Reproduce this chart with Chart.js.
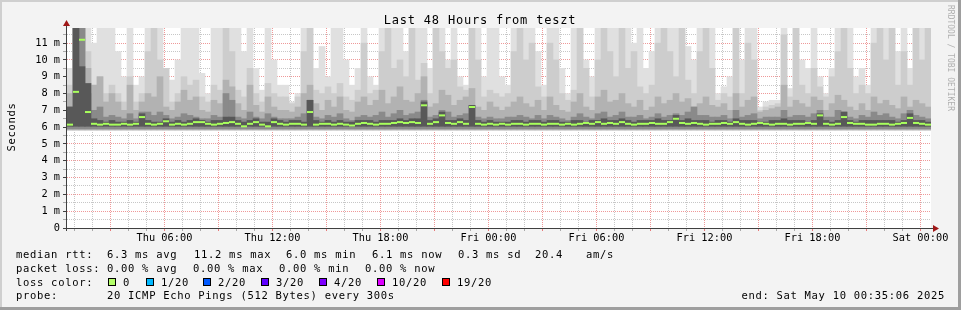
<!DOCTYPE html>
<html><head><meta charset="utf-8">
<script src="https://cdn.jsdelivr.net/npm/chart.js@4"></script>
<style>html,body{margin:0;padding:0;background:#f3f3f3;}#wrap{width:961px;height:310px;position:relative}</style>
</head><body><div id="wrap"><canvas id="c" width="961" height="310"></canvas></div>
<script>
// ---- data (values in milliseconds, 144 slots of 20 minutes, Thu 00:35 -> Sat 00:35) ----
const slotMinutes = 20;
const smokeHigh = [
 9.5,11.9,11.9,11.9,11.0,11.9,11.9,11.9,10.5,9.0,11.9,8.5,9.0,11.9,11.9,11.9,9.5,8.8,10.0,11.9,11.9,11.9,9.2,8.0,11.9,11.9,11.9,11.9,11.9,10.5,11.9,9.5,8.2,11.9,10.0,8.5,
 8.5,7.5,8.0,11.9,11.9,9.5,10.8,9.0,11.9,11.9,10.0,8.5,9.5,11.9,9.0,8.5,11.9,11.9,11.9,11.9,10.5,11.9,11.9,11.9,9.5,11.9,11.9,10.0,11.9,9.0,8.5,11.9,11.9,9.0,11.9,11.9,
 9.0,8.5,11.9,11.9,11.9,11.9,10.5,8.5,11.9,11.9,9.5,8.0,11.9,11.9,10.0,9.0,11.9,11.9,11.9,11.9,11.9,11.9,11.0,11.9,9.5,10.5,11.9,11.9,11.9,11.9,11.9,10.8,10.0,11.9,11.9,11.9,
 8.0,8.4,9.0,11.9,10.0,11.9,11.9,7.2,7.5,7.6,7.6,11.9,8.3,11.9,10.0,9.5,11.9,9.0,8.0,9.5,11.9,11.9,11.9,9.0,9.5,8.5,11.9,11.9,11.9,11.9,10.5,11.9,9.5,11.9,11.9,11.9];
const smokeUpper = [
 8.5,11.9,11.9,10.5,8.5,9.0,8.0,8.5,8.0,7.5,9.0,7.5,8.0,10.5,11.9,10.0,9.5,7.5,8.0,9.0,8.5,8.8,7.8,7.5,8.5,8.2,11.9,10.5,8.2,7.8,9.5,8.0,7.5,8.6,8.0,7.8,
 7.8,7.4,7.8,10.5,11.9,8.2,8.0,8.4,8.0,8.6,7.8,7.6,8.2,11.0,8.0,8.2,10.5,11.9,9.5,10.0,9.0,11.9,8.8,9.8,8.0,11.9,10.5,9.5,10.0,8.4,8.2,11.9,10.0,7.8,8.2,8.0,
 7.8,8.0,10.5,11.9,10.0,11.0,8.4,7.8,11.0,10.0,8.0,7.6,8.2,11.9,9.5,7.8,10.0,11.9,10.5,9.0,11.9,9.5,10.5,8.4,8.0,8.5,11.0,11.9,10.5,9.0,11.9,8.8,8.0,10.5,11.9,9.5,
 7.6,8.0,7.8,11.9,8.0,11.0,10.0,7.0,7.2,7.3,7.4,11.5,7.8,11.9,8.5,8.0,9.5,8.4,7.8,9.0,10.5,11.9,9.5,8.0,8.5,8.0,11.0,11.9,10.0,11.9,8.5,10.5,8.5,11.9,10.0,11.9];
const smokeMid = [
 8.0,11.9,11.9,9.5,8.5,9.0,7.5,8.0,7.5,7.0,8.5,7.0,7.5,8.0,7.8,9.0,7.2,7.0,7.5,8.2,7.6,7.8,7.0,6.9,7.6,7.4,8.8,8.4,7.4,7.0,8.5,7.3,6.9,7.8,7.2,7.0,
 7.0,6.9,7.2,8.0,8.5,7.4,7.0,7.6,7.2,7.8,7.0,6.9,7.5,7.8,7.3,7.6,8.2,7.4,7.8,8.4,7.6,7.5,8.0,9.0,7.2,7.4,8.2,7.9,7.3,7.6,7.8,8.3,7.2,7.0,7.5,7.2,
 7.0,7.2,7.5,7.8,7.4,7.2,7.6,7.0,7.8,7.3,7.0,6.9,7.5,8.0,7.2,7.0,7.8,8.2,7.5,7.6,8.0,7.4,7.2,7.6,7.0,7.2,7.8,7.4,7.6,8.0,7.5,7.7,7.2,7.4,7.8,7.3,
 7.2,7.4,7.0,8.0,7.2,7.6,7.8,6.9,7.0,7.1,7.2,8.5,7.2,7.6,7.4,7.2,7.8,7.6,7.0,7.4,7.9,7.6,7.2,7.0,7.4,7.0,7.8,7.4,7.6,7.3,7.1,7.8,7.2,7.6,7.4,7.2];
const smokeDark = [
 7.2,11.9,11.9,8.0,7.0,7.2,6.6,6.7,6.6,6.5,6.8,6.5,6.9,6.9,6.7,6.9,6.7,6.5,6.6,6.8,6.7,6.6,6.5,6.5,6.7,6.6,8.0,7.6,6.6,6.5,6.9,6.6,6.5,6.8,6.6,6.5,
 6.5,6.5,6.6,6.8,7.6,6.6,6.5,6.7,6.6,6.8,6.5,6.4,6.6,6.7,6.6,6.7,6.9,6.6,6.8,7.0,6.7,6.8,6.9,7.6,6.6,6.7,7.0,6.9,6.6,6.7,6.8,7.3,6.6,6.5,6.6,6.5,
 6.5,6.6,6.6,6.7,6.6,6.5,6.7,6.5,6.7,6.6,6.5,6.4,6.6,6.8,6.6,6.5,6.8,6.9,6.6,6.7,6.9,6.6,6.6,6.7,6.5,6.6,6.8,6.6,6.7,6.8,6.7,6.9,7.2,6.7,6.7,6.6,
 6.6,6.7,6.5,7.0,6.6,6.7,6.8,6.5,6.6,6.6,6.6,7.0,6.6,6.7,6.7,6.6,6.8,7.0,6.6,6.6,7.0,6.9,6.6,6.5,6.7,6.6,6.9,6.7,6.8,6.6,6.5,6.8,7.0,6.7,6.6,6.5];
const smokeCore = [
 7.2,11.9,9.6,8.6,6.5,6.4,6.3,6.4,6.3,6.3,6.4,6.3,6.8,6.4,6.3,6.3,6.5,6.3,6.4,6.3,6.4,6.5,6.4,6.3,6.4,6.4,6.6,6.6,6.4,6.3,6.4,6.5,6.3,6.3,6.5,6.4,
 6.3,6.4,6.4,6.3,7.6,6.4,6.3,6.4,6.3,6.4,6.3,6.3,6.4,6.4,6.4,6.3,6.4,6.4,6.4,6.5,6.4,6.5,6.5,7.5,6.4,6.5,6.9,6.4,6.4,6.5,6.4,7.3,6.4,6.3,6.4,6.3,
 6.3,6.3,6.4,6.4,6.3,6.4,6.4,6.3,6.4,6.4,6.3,6.3,6.4,6.4,6.3,6.4,6.4,6.5,6.4,6.4,6.5,6.4,6.3,6.4,6.4,6.4,6.5,6.4,6.4,6.7,6.4,6.5,6.4,6.4,6.4,6.3,
 6.4,6.4,6.3,6.5,6.4,6.4,6.4,6.3,6.3,6.4,6.4,6.5,6.4,6.4,6.4,6.3,6.4,6.8,6.4,6.3,6.4,6.9,6.4,6.3,6.4,6.4,6.4,6.4,6.4,6.4,6.3,6.4,6.8,6.4,6.4,6.3];
const medianRtt = [
 6.15,8.1,11.2,6.9,6.2,6.15,6.2,6.15,6.15,6.2,6.15,6.2,6.6,6.2,6.15,6.2,6.35,6.15,6.2,6.15,6.2,6.3,6.3,6.2,6.15,6.2,6.25,6.3,6.2,6.05,6.2,6.3,6.15,6.05,6.3,6.2,
 6.15,6.2,6.2,6.15,6.9,6.15,6.2,6.2,6.15,6.2,6.15,6.1,6.2,6.25,6.2,6.15,6.2,6.2,6.25,6.3,6.25,6.3,6.25,7.3,6.2,6.3,6.7,6.25,6.2,6.3,6.2,7.2,6.2,6.15,6.2,6.15,
 6.2,6.15,6.2,6.2,6.15,6.2,6.2,6.15,6.2,6.2,6.15,6.2,6.15,6.2,6.25,6.2,6.3,6.2,6.25,6.2,6.3,6.2,6.15,6.2,6.2,6.25,6.2,6.2,6.3,6.5,6.25,6.2,6.25,6.2,6.15,6.2,
 6.2,6.25,6.2,6.3,6.2,6.15,6.2,6.25,6.2,6.15,6.2,6.2,6.15,6.2,6.2,6.25,6.2,6.7,6.2,6.15,6.2,6.6,6.25,6.2,6.2,6.15,6.15,6.2,6.2,6.15,6.2,6.25,6.55,6.25,6.2,6.15];
const smokeFloor = [5.8, 5.82, 5.85, 5.9, 6.05]; // high, upper, mid, dark, core
const yTickLabels = ['0','1 m','2 m','3 m','4 m','5 m','6 m','7 m','8 m','9 m','10 m','11 m'];
const xTickLabels = ['Thu 06:00','Thu 12:00','Thu 18:00','Fri 00:00','Fri 06:00','Fri 12:00','Fri 18:00','Sat 00:00'];
const startOffsetMin = 35.1; // graph starts at 00:35:06
const lossColors = ['#b4ff6a','#00b8ff','#0059ff','#5e00ff','#7e00ff','#dd00ff','#ff0000'];
const lossLabels = ['0','1/20','2/20','3/20','4/20','10/20','19/20'];
const rowMedian = ['median rtt:','6.3 ms avg','11.2 ms max','6.0 ms min','6.1 ms now','0.3 ms sd','20.4','am/s'];
const rowLoss = ['packet loss:','0.00 % avg','0.00 % max','0.00 % min','0.00 % now'];

const MONO = "'DejaVu Sans Mono', monospace";
const slotX = i => i * slotMinutes + slotMinutes / 2;
const band = (arr, floor) => arr.map((v, i) => ({x: slotX(i), y: [floor, v]}));
const barDs = (label, arr, floor, color, order) => ({
  type: 'bar', label, data: band(arr, floor), backgroundColor: color, borderWidth: 0,
  grouped: false, barPercentage: 1, categoryPercentage: 1, order
});
const hourOf = v => Math.round((v + startOffsetMin) / 60);

const frame = {
  id: 'frame',
  beforeDraw(chart) {
    const {ctx, chartArea: a} = chart;
    ctx.save();
    ctx.fillStyle = '#f3f3f3'; ctx.fillRect(0, 0, 961, 310);
    ctx.fillStyle = '#cfcfcf'; ctx.fillRect(0, 0, 961, 2); ctx.fillRect(0, 0, 2, 310);
    ctx.fillStyle = '#9e9e9e'; ctx.fillRect(0, 307, 961, 3); ctx.fillRect(958, 0, 3, 310);
    ctx.fillStyle = '#ffffff'; ctx.fillRect(a.left, a.top, a.right - a.left, a.bottom - a.top);
    ctx.restore();
  },
  afterDraw(chart) {
    const {ctx, chartArea: a} = chart;
    ctx.save();
    // axes
    ctx.strokeStyle = '#404040'; ctx.lineWidth = 1;
    ctx.beginPath(); ctx.moveTo(a.left - 0.5, a.bottom + 3); ctx.lineTo(a.left - 0.5, 22); ctx.stroke();
    ctx.beginPath(); ctx.moveTo(a.left - 4, a.bottom + 0.5); ctx.lineTo(a.right + 4, a.bottom + 0.5); ctx.stroke();
    ctx.fillStyle = '#a01818';
    ctx.beginPath(); ctx.moveTo(a.left - 4, 26); ctx.lineTo(a.left + 3, 26); ctx.lineTo(a.left - 0.5, 20); ctx.closePath(); ctx.fill();
    ctx.beginPath(); ctx.moveTo(a.right + 2, a.bottom - 3); ctx.lineTo(a.right + 2, a.bottom + 4); ctx.lineTo(a.right + 8, a.bottom + 0.5); ctx.closePath(); ctx.fill();
    // title
    ctx.fillStyle = '#000';
    ctx.letterSpacing = '0.8px';
    ctx.font = '12px ' + MONO; ctx.textAlign = 'center'; ctx.textBaseline = 'alphabetic';
    ctx.fillText('Last 48 Hours from teszt', 480, 24);
    // y title
    ctx.letterSpacing = '0.7px';
    ctx.font = '10.5px ' + MONO;
    ctx.save(); ctx.translate(15, 127); ctx.rotate(-Math.PI / 2); ctx.fillText('Seconds', 0, 0); ctx.restore();
    // watermark
    ctx.save(); ctx.letterSpacing = '0px'; ctx.fillStyle = '#b0b0b0'; ctx.font = '8px ' + MONO; ctx.textAlign = 'left';
    ctx.translate(948, 5); ctx.rotate(Math.PI / 2); ctx.fillText('RRDTOOL / TOBI OETIKER', 0, 0); ctx.restore();
    // legend
    ctx.textAlign = 'left';
    const medX = [16, 107, 194, 286, 372, 458, 535, 586];
    rowMedian.forEach((t, i) => ctx.fillText(t, medX[i], 258));
    const lossX = [16, 107, 193, 279, 365];
    rowLoss.forEach((t, i) => ctx.fillText(t, lossX[i], 272));
    ctx.fillText('loss color:', 16, 286);
    const swX = [108, 146, 203, 261, 319, 377, 442];
    lossLabels.forEach((t, i) => {
      ctx.fillStyle = lossColors[i]; ctx.fillRect(swX[i], 278, 8, 8);
      ctx.strokeStyle = '#000'; ctx.strokeRect(swX[i] + 0.5, 278.5, 7, 7);
      ctx.fillStyle = '#000'; ctx.fillText(t, swX[i] + 15, 286);
    });
    ctx.fillText('probe:', 16, 299);
    ctx.fillText('20 ICMP Echo Pings (512 Bytes) every 300s', 107, 299);
    ctx.textAlign = 'right';
    ctx.fillText('end: Sat May 10 00:35:06 2025', 945, 299);
    ctx.restore();
  }
};

new Chart(document.getElementById('c'), {
  type: 'bar',
  data: {
    datasets: [
      barDs('smoke high', smokeHigh, smokeFloor[0], '#e0e0e0', 7),
      barDs('smoke upper', smokeUpper, smokeFloor[1], '#cdcdcd', 6),
      barDs('smoke mid', smokeMid, smokeFloor[2], '#b2b2b2', 5),
      barDs('smoke dark', smokeDark, smokeFloor[3], '#8a8a8a', 4),
      barDs('smoke core', smokeCore, smokeFloor[4], '#585858', 3),
      {type: 'line', label: 'median rtt', data: medianRtt.map((v, i) => ({x: slotX(i), y: v})),
       showLine: false, pointStyle: 'line', pointRadius: 3, pointBorderWidth: 2,
       pointBorderColor: '#a8ff5c', borderColor: '#a8ff5c', order: 1}
    ]
  },
  options: {
    responsive: false, animation: false, devicePixelRatio: 1,
    layout: {padding: {left: 0, right: 30, top: 28, bottom: 0}},
    plugins: {legend: {display: false}, tooltip: {enabled: false}, title: {display: false}},
    scales: {
      x: {
        type: 'linear', min: 0, max: 2880, offset: false, z: 1,
        afterBuildTicks: s => { s.ticks = []; for (let h = 1; h <= 48; h++) s.ticks.push({value: h * 60 - startOffsetMin}); },
        afterFit: s => { s.height = 82; s.paddingLeft = 0; s.paddingRight = 0; },
        border: {display: false, dash: [1, 1]},
        grid: {offset: false, drawTicks: true, tickLength: 3,
          color: c => hourOf(c.tick.value) % 3 === 0 ? 'rgba(225,70,70,0.55)' : 'rgba(0,0,0,0.22)',
          tickColor: c => hourOf(c.tick.value) % 3 === 0 ? 'rgba(225,70,70,0.7)' : 'rgba(0,0,0,0.3)'},
        ticks: {autoSkip: false, maxRotation: 0, padding: 1, color: '#000', font: {family: MONO, size: 10.3},
          callback: v => { const h = hourOf(v); return h % 6 === 0 ? xTickLabels[h / 6 - 1] : ''; }}
      },
      y: {
        type: 'linear', min: 0, max: 11.9, z: 1,
        afterBuildTicks: s => { s.ticks = []; for (let k = 0; k <= 23; k++) s.ticks.push({value: k / 2}); },
        afterFit: s => { s.width = 67; s.paddingTop = 0; s.paddingBottom = 0; },
        border: {display: false, dash: [1, 1]},
        grid: {drawTicks: true, tickLength: 4,
          color: c => c.tick.value % 1 === 0 ? 'rgba(225,70,70,0.55)' : 'rgba(0,0,0,0.22)',
          tickColor: c => c.tick.value % 1 === 0 ? '#404040' : 'rgba(0,0,0,0.3)'},
        ticks: {autoSkip: false, padding: 3, color: '#000', font: {family: MONO, size: 10.3},
          callback: v => v % 1 === 0 ? yTickLabels[v] : ''}
      }
    }
  },
  plugins: [frame]
});
</script></body></html>
